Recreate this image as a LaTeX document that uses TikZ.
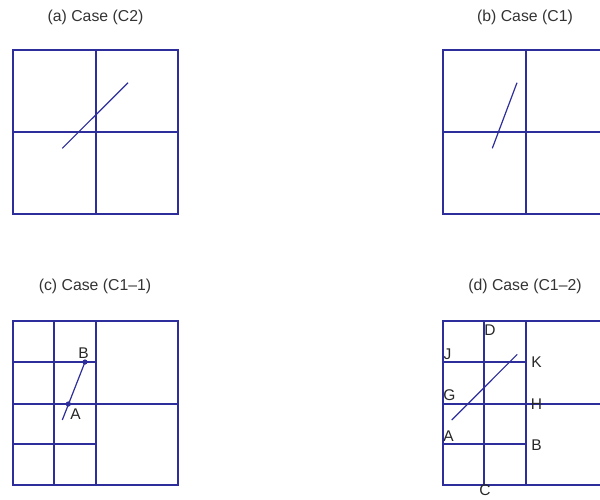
\documentclass[tikz,border=0pt]{standalone}
\usepackage{fontspec}
\setmainfont{Liberation Sans}
\begin{document}
\begin{tikzpicture}[x=1pt,y=-1pt,
  gridline/.style={draw=lineblue,line width=1.5pt},
  seg/.style={draw=lineblue,line width=1.2pt},
  ttl/.style={font=\fontsize{15.8}{18}\selectfont,text=black!80,inner sep=0pt},
  lbl/.style={font=\fontsize{15.5}{18}\selectfont,text=black!85,inner sep=0pt}]
\definecolor{lineblue}{RGB}{45,45,155}
\useasboundingbox (0,0) rectangle (600,499);
\clip (0,0) rectangle (600,499);
% titles
\node[ttl] (ta) at (95.5,17) {(a) Case (C2)};
\node[ttl] (tb) at (525,17) {(b) Case (C1)};
\node[ttl] (tc) at (95,286.5) {(c) Case (C1{\textendash}1)};
\node[ttl] (td) at (525,286.5) {(d) Case (C1{\textendash}2)};
% (a)
\draw[gridline] (13,50) rectangle (178,214);
\draw[gridline] (96,50) -- (96,214) (13,132) -- (178,132);
\draw[seg] (62.3,148.3) -- (128,82.7);
% (b)
\draw[gridline] (443,50) rectangle (608,214);
\draw[gridline] (526,50) -- (526,214) (443,132) -- (608,132);
\draw[seg] (492.3,148.3) -- (517,82.7);
% (c)
\draw[gridline] (13,321) rectangle (178,485);
\draw[gridline] (54,321) -- (54,485) (96,321) -- (96,485);
\draw[gridline] (13,362) -- (96,362) (13,404) -- (178,404) (13,444) -- (96,444);
\coordinate (cA) at (68.3,404);
\coordinate (cB) at (85,362);
\draw[seg] (62.3,420) -- (cB);
\fill[lineblue] (cA) circle (2.6) (cB) circle (2.6);
\node[lbl] (lA) at (75.5,414) {A};
\node[lbl] (lB) at (83.5,353) {B};
% (d)
\draw[gridline] (443,321) rectangle (608,485);
\draw[gridline] (484,321) -- (484,485) (526,321) -- (526,485);
\draw[gridline] (443,362) -- (526,362) (443,404) -- (608,404) (443,444) -- (526,444);
\draw[seg] (451.7,420) -- (517.3,354.3);
\node[lbl] (dD) at (490,330) {D};
\node[lbl] (dJ) at (447.5,354) {J};
\node[lbl] (dK) at (536.5,362) {K};
\node[lbl] (dG) at (449.5,395.5) {G};
\node[lbl] (dH) at (536.5,404.5) {H};
\node[lbl] (dA) at (448.5,436) {A};
\node[lbl] (dB) at (536.5,445) {B};
\node[lbl] (dC) at (485,490.5) {C};
\end{tikzpicture}
\end{document}
